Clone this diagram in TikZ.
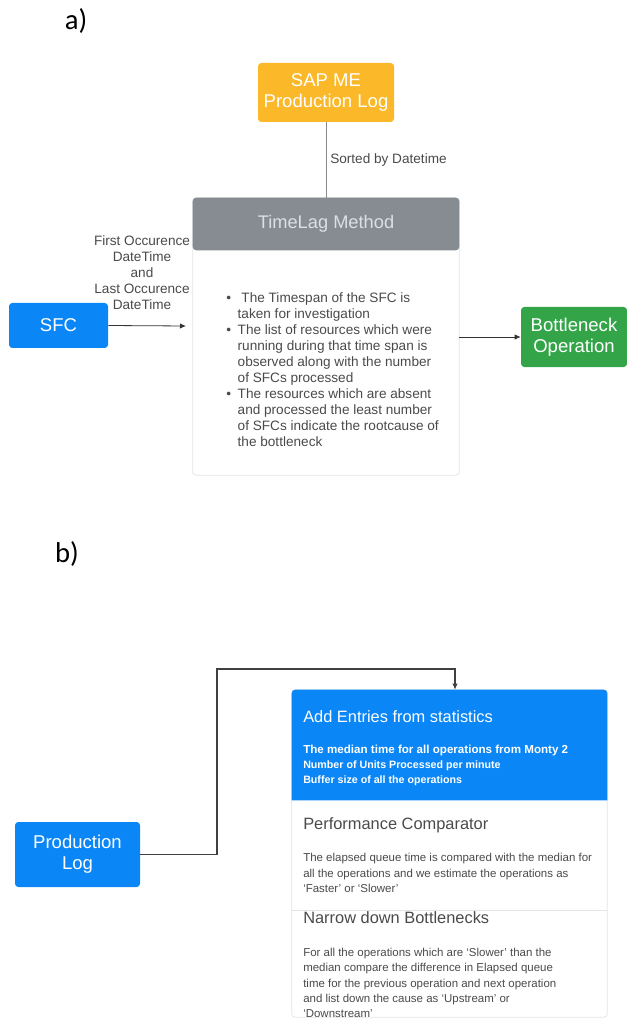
\documentclass[tikz,border=0pt]{standalone}
\usepackage{fontspec}
\setmainfont{Liberation Sans}
\newfontfamily\lblfont{Carlito}
\usepackage{tikz}
\usetikzlibrary{arrows.meta,calc}

\definecolor{sapOrange}{HTML}{FBB829}
\definecolor{sfcBlue}{HTML}{0A86F7}
\definecolor{okGreen}{HTML}{33A548}
\definecolor{headGray}{HTML}{878C93}
\definecolor{headText}{HTML}{DCE0E4}
\definecolor{frameGray}{HTML}{E2E4E6}
\definecolor{bodyText}{HTML}{4A4A4A}
\definecolor{lineGray}{HTML}{8A8A8A}

\tikzset{
  colbox/.style={rectangle, rounded corners=2.5pt, text=white, align=center,
    font=\fontsize{13.9}{16}\selectfont, inner sep=0pt},
  small/.style={font=\fontsize{10.2}{12}\selectfont, text=bodyText, inner sep=0pt},
  sectitle/.style={anchor=west, inner sep=0pt, font=\fontsize{12.3}{14}\selectfont},
  secbody/.style={anchor=west, inner sep=0pt, align=left,
    font=\fontsize{8.6}{11.5}\selectfont},
  link/.style={-{Latex[length=4.5pt,width=4pt]}, color=black!80, line width=0.6pt}
}

\begin{document}
\begin{tikzpicture}[x=0.75pt,y=-0.75pt]
\useasboundingbox (0,0) rectangle (627,1019);

% part a)
\node (lbla) [font=\lblfont\fontsize{21.5}{22}\selectfont] at (76,21) {a)};

\node (sap) [colbox, fill=sapOrange, minimum width=102pt, minimum height=44.25pt]
  at (326,92.5) {SAP ME\\Production Log};

\node (header) [rectangle, minimum width=199.5pt, minimum height=39pt, inner sep=0pt]
  at (326,224) {};
\node (body) [rectangle, minimum width=199.5pt, minimum height=168.75pt, inner sep=0pt]
  at (326,362.5) {};
\draw [frameGray, line width=0.6pt, rounded corners=2.5pt]
  (header.north west) rectangle (body.south east);
\fill [headGray, rounded corners=2.5pt] (header.south west) rectangle (header.north east);
\node (method) [text=headText, font=\fontsize{13.7}{15}\selectfont] at (header) {TimeLag Method};

\node (steps) [small, anchor=west] at (226,371.5) {%
  \begin{tabular}{@{}c@{\hspace{5pt}}l@{}}
  \textbullet & \ The Timespan of the SFC is\\
              & taken for investigation\\
  \textbullet & The list of resources which were\\
              & running during that time span is\\
              & observed along with the number\\
              & of SFCs processed\\
  \textbullet & The resources which are absent\\
              & and processed the least number\\
              & of SFCs indicate the rootcause of\\
              & the bottleneck
  \end{tabular}};

\node (sfc) [colbox, fill=sfcBlue, minimum width=74.25pt, minimum height=33.75pt]
  at (58.5,325.5) {SFC};
\node (bneck) [colbox, fill=okGreen, minimum width=79.5pt, minimum height=45pt]
  at (574,337) {Bottleneck\\Operation};

\coordinate (sfcin) at (186,326);
\draw [link] (sfc.east) -- (sfcin);
\node (times) [small, align=center] at (142,272.5)
  {First Occurence\\DateTime\\and\\Last Occurence\\DateTime};

\draw [lineGray, line width=0.6pt] (sap.south) -- (header.north);
\node (sorted) [small, anchor=west] at (330,160) {Sorted by Datetime};

\draw [link] (bneck.west -| body.east) -- (bneck.west);

% part b)
\node (lblb) [font=\lblfont\fontsize{21.5}{22}\selectfont] at (67,554) {b)};

\node (prodlog) [colbox, fill=sfcBlue, minimum width=93.75pt, minimum height=48.75pt]
  at (77.5,854.5) {Production\\Log};

\node (stats) [rectangle, minimum width=236.25pt, minimum height=82.5pt, inner sep=0pt]
  at (449.5,745) {};
\node (comp) [rectangle, minimum width=236.25pt, minimum height=82.5pt, inner sep=0pt]
  at (449.5,855) {};
\node (narrow) [rectangle, minimum width=236.25pt, minimum height=80.25pt, inner sep=0pt]
  at (449.5,963.5) {};

\draw [frameGray, line width=0.6pt, rounded corners=2.5pt]
  (stats.north west) rectangle (narrow.south east);
\draw [frameGray, line width=0.6pt] (comp.south west) -- (comp.south east);
\fill [sfcBlue] (stats.south west) [rounded corners=2.5pt] -- (stats.north west)
  -- (stats.north east) [sharp corners] -- (stats.south east) -- cycle;

\node (statsT) [sectitle, text=white] at (303,717) {Add Entries from statistics};
\node (statsB) [secbody, text=white, font={\fontsize{8}{11.5}\selectfont\bfseries}] at (303,765.5)
  {{\fontsize{8.7}{11.5}\selectfont The median time for all operations from Monty 2}\\
   Number of Units Processed per minute\\
   Buffer size of all the operations};

\node (compT) [sectitle, text=bodyText] at (303,825) {Performance Comparator};
\node (compB) [secbody, text=bodyText] at (303,873)
  {The elapsed queue time is compared with the median for\\
   all the operations and we estimate the operations as\\
   `Faster' or `Slower'};

\node (narrowT) [sectitle, text=bodyText] at (303,918) {Narrow down Bottlenecks};
\node (narrowB) [secbody, text=bodyText] at (303,983)
  {For all the operations which are `Slower' than the\\
   median compare the difference in Elapsed queue\\
   time for the previous operation and next operation\\
   and list down the cause as `Upstream' or\\
   `Downstream'};

\coordinate (up) at (217,669);
\coordinate (drop) at (455,669);
\draw [link, color=black!75, line width=0.8pt] (prodlog.east) -| (up) -- (drop) -- (drop |- stats.north);

\end{tikzpicture}
\end{document}
